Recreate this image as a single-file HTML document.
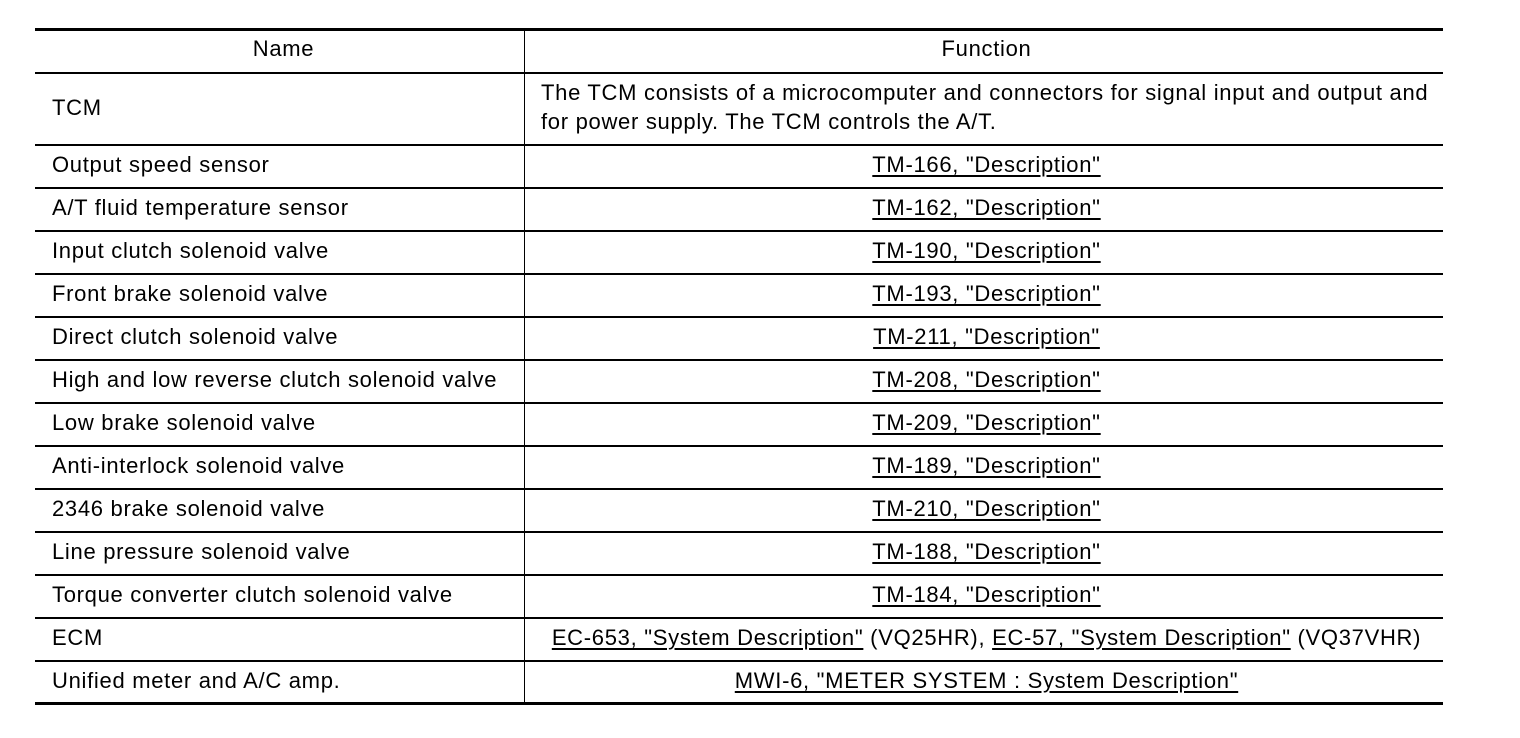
<!DOCTYPE html>
<html>
<head>
<meta charset="utf-8">
<style>
  html, body { margin:0; padding:0; background:#fff; }
  body { width:1520px; height:738px; position:relative; overflow:hidden;
         font-family:"Liberation Sans", Arial, sans-serif; font-size:22px; color:#000; }
  .h { position:absolute; left:35px; width:1408px; background:#000; }
  .v { position:absolute; width:1px; background:#000; }
  .t { position:absolute; line-height:24px; white-space:nowrap; letter-spacing:0.7px; }
  .l { left:52px; }
  .c2 { left:524px; width:919px; text-align:center; padding-left:6px; box-sizing:border-box; }
  .c1 { left:35px; width:489px; text-align:center; padding-left:8px; box-sizing:border-box; }
  u { text-decoration:underline; text-decoration-thickness:1.5px; text-underline-offset:3px; }
</style>
</head>
<body>
  <!-- horizontal rules -->
  <div class="h" style="top:28px;height:3px;"></div>
  <div class="h" style="top:72px;height:2px;"></div>
  <div class="h" style="top:144px;height:2px;"></div>
  <div class="h" style="top:187px;height:2px;"></div>
  <div class="h" style="top:230px;height:2px;"></div>
  <div class="h" style="top:273px;height:2px;"></div>
  <div class="h" style="top:316px;height:2px;"></div>
  <div class="h" style="top:359px;height:2px;"></div>
  <div class="h" style="top:402px;height:2px;"></div>
  <div class="h" style="top:445px;height:2px;"></div>
  <div class="h" style="top:488px;height:2px;"></div>
  <div class="h" style="top:531px;height:2px;"></div>
  <div class="h" style="top:574px;height:2px;"></div>
  <div class="h" style="top:617px;height:2px;"></div>
  <div class="h" style="top:660px;height:2px;"></div>
  <div class="h" style="top:702px;height:3px;"></div>
  <!-- vertical divider -->
  <div class="v" style="left:524px;top:31px;height:671px;"></div>

  <!-- header -->
  <div class="t c1" style="top:37px;">Name</div>
  <div class="t c2" style="top:37px;">Function</div>

  <!-- TCM row -->
  <div class="t l" style="top:96px;">TCM</div>
  <div class="t" style="left:541px;top:81px;">The TCM consists of a microcomputer and connectors for signal input and output and</div>
  <div class="t" style="left:541px;top:110px;">for power supply. The TCM controls the A/T.</div>

  <!-- rows -->
  <div class="t l" style="top:153px;">Output speed sensor</div>
  <div class="t c2" style="top:153px;"><u>TM-166, "Description"</u></div>

  <div class="t l" style="top:196px;">A/T fluid temperature sensor</div>
  <div class="t c2" style="top:196px;"><u>TM-162, "Description"</u></div>

  <div class="t l" style="top:239px;">Input clutch solenoid valve</div>
  <div class="t c2" style="top:239px;"><u>TM-190, "Description"</u></div>

  <div class="t l" style="top:282px;">Front brake solenoid valve</div>
  <div class="t c2" style="top:282px;"><u>TM-193, "Description"</u></div>

  <div class="t l" style="top:325px;">Direct clutch solenoid valve</div>
  <div class="t c2" style="top:325px;"><u>TM-211, "Description"</u></div>

  <div class="t l" style="top:368px;">High and low reverse clutch solenoid valve</div>
  <div class="t c2" style="top:368px;"><u>TM-208, "Description"</u></div>

  <div class="t l" style="top:411px;">Low brake solenoid valve</div>
  <div class="t c2" style="top:411px;"><u>TM-209, "Description"</u></div>

  <div class="t l" style="top:454px;">Anti-interlock solenoid valve</div>
  <div class="t c2" style="top:454px;"><u>TM-189, "Description"</u></div>

  <div class="t l" style="top:497px;">2346 brake solenoid valve</div>
  <div class="t c2" style="top:497px;"><u>TM-210, "Description"</u></div>

  <div class="t l" style="top:540px;">Line pressure solenoid valve</div>
  <div class="t c2" style="top:540px;"><u>TM-188, "Description"</u></div>

  <div class="t l" style="top:583px;">Torque converter clutch solenoid valve</div>
  <div class="t c2" style="top:583px;"><u>TM-184, "Description"</u></div>

  <div class="t l" style="top:626px;">ECM</div>
  <div class="t c2" style="top:626px;"><u>EC-653, "System Description"</u> (VQ25HR), <u>EC-57, "System Description"</u> (VQ37VHR)</div>

  <div class="t l" style="top:669px;">Unified meter and A/C amp.</div>
  <div class="t c2" style="top:669px;"><u>MWI-6, "METER SYSTEM : System Description"</u></div>
</body>
</html>
